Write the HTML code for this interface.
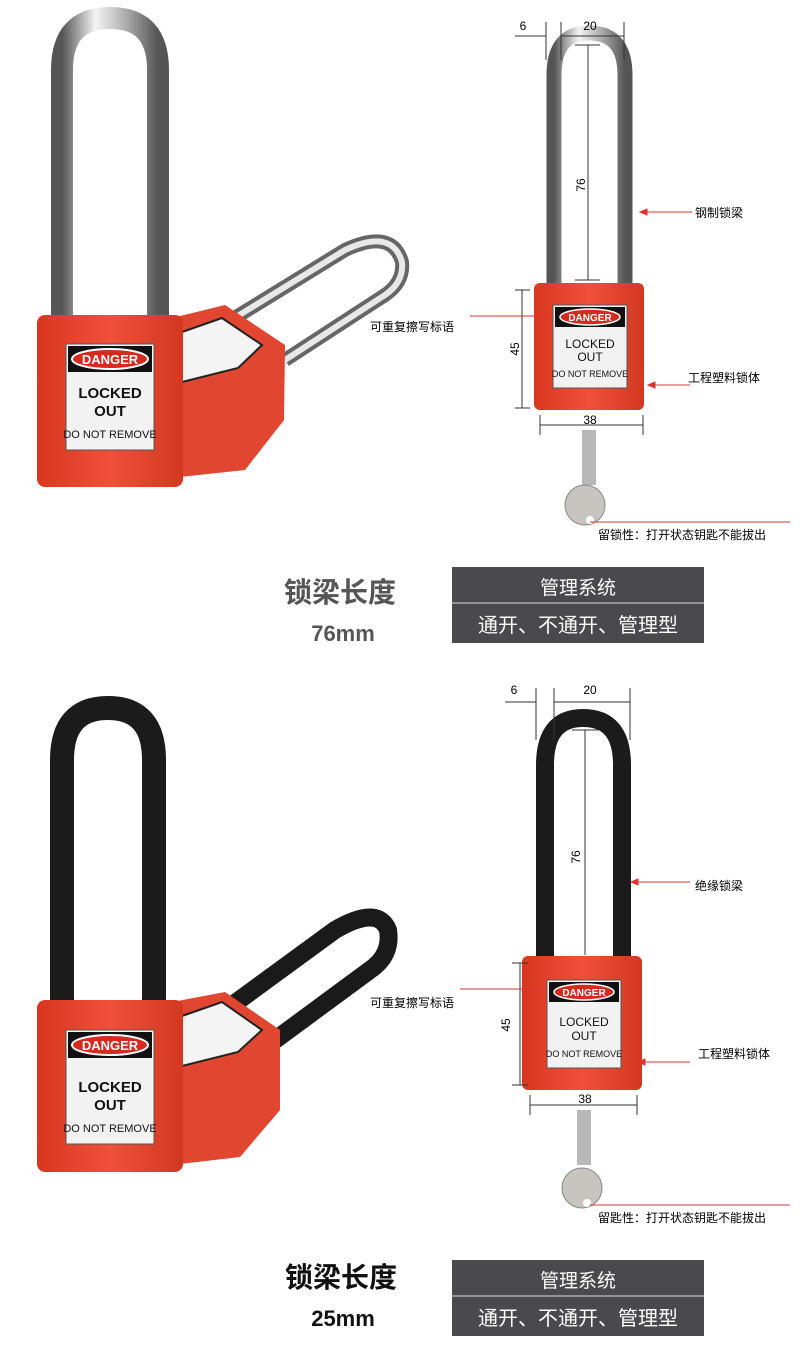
<!DOCTYPE html>
<html><head><meta charset="utf-8"><style>
body{margin:0;background:#fff;}
svg text{font-family:"Liberation Sans","Noto Sans CJK SC",sans-serif;}
</style></head><body>
<svg width="800" height="1357" viewBox="0 0 800 1357" xmlns="http://www.w3.org/2000/svg">
<defs>
<linearGradient id="steel" x1="0" x2="1" y1="0" y2="0">
<stop offset="0" stop-color="#555"/><stop offset="0.35" stop-color="#f4f4f4"/><stop offset="0.65" stop-color="#b0b0b0"/><stop offset="1" stop-color="#555"/>
</linearGradient>
<linearGradient id="red" x1="0" x2="1"><stop offset="0" stop-color="#d8361f"/><stop offset="0.5" stop-color="#f0503a"/><stop offset="1" stop-color="#d23820"/></linearGradient>
</defs>

<!-- ============ TOP SECTION ============ -->
<path d="M215 330 L345 250 Q392 228 402 262 Q404 282 385 295 L285 360" fill="none" stroke="#666" stroke-width="14"/>
<path d="M215 330 L345 250 Q392 228 402 262 Q404 282 385 295 L285 360" fill="none" stroke="#e8e8e8" stroke-width="6"/>
<polygon points="172,318 225,305 285,345 284,420 245,470 180,477" fill="#e04630"/>
<polygon points="182,332 222,318 262,345 238,368 182,382" fill="#f4f4f4" stroke="#222" stroke-width="2"/>
<path d="M62 320 L62 70 Q62 18 110 18 Q158 18 158 70 L158 320" fill="none" stroke="url(#steel)" stroke-width="22"/>
<rect x="37" y="315" width="146" height="172" rx="8" fill="url(#red)"/>
<rect x="66" y="344" width="88" height="106" fill="#f2f2f2" stroke="#555"/>
<rect x="68" y="346" width="84" height="26" fill="#111"/>
<ellipse cx="110" cy="359" rx="38" ry="10" fill="#d62a1f" stroke="#fff" stroke-width="2"/>
<text x="110" y="364" font-size="13" font-weight="bold" fill="#fff" text-anchor="middle">DANGER</text>
<text x="110" y="398" font-size="15" font-weight="bold" fill="#111" text-anchor="middle">LOCKED</text>
<text x="110" y="416" font-size="15" font-weight="bold" fill="#111" text-anchor="middle">OUT</text>
<text x="110" y="438" font-size="11" fill="#111" text-anchor="middle">DO NOT REMOVE</text>

<!-- right diagram top -->
<path d="M554 285 L554 75 Q554 33 589 33 Q625 33 625 75 L625 285" fill="none" stroke="url(#steel)" stroke-width="15"/>
<rect x="534" y="283" width="110" height="127" rx="6" fill="url(#red)"/>
<rect x="553" y="305" width="74" height="83" fill="#f2f2f2" stroke="#555"/>
<rect x="555" y="307" width="70" height="20" fill="#111"/>
<ellipse cx="590" cy="317" rx="30" ry="8" fill="#d62a1f" stroke="#fff" stroke-width="1.5"/>
<text x="590" y="321" font-size="10" font-weight="bold" fill="#fff" text-anchor="middle">DANGER</text>
<text x="590" y="348" font-size="12" fill="#111" text-anchor="middle">LOCKED</text>
<text x="590" y="361" font-size="12" fill="#111" text-anchor="middle">OUT</text>
<text x="590" y="377" font-size="9" fill="#111" text-anchor="middle">DO NOT REMOVE</text>
<rect x="582" y="430" width="14" height="55" fill="#b8b8b8"/>
<circle cx="585" cy="505" r="20" fill="#c8c4c0" stroke="#888"/>
<circle cx="590" cy="520" r="4" fill="#fff"/>
<g stroke="#333" stroke-width="1" fill="#333">
<line x1="546" y1="22" x2="546" y2="60"/><line x1="561" y1="22" x2="561" y2="60"/><line x1="624" y1="22" x2="624" y2="60"/>
<line x1="515" y1="36" x2="546" y2="36"/><line x1="561" y1="36" x2="624" y2="36"/>
<line x1="588" y1="45" x2="588" y2="280"/><line x1="575" y1="45" x2="600" y2="45"/><line x1="575" y1="280" x2="600" y2="280"/>
<line x1="522" y1="290" x2="522" y2="408"/><line x1="515" y1="290" x2="530" y2="290"/><line x1="515" y1="408" x2="530" y2="408"/>
<line x1="540" y1="425" x2="643" y2="425"/><line x1="540" y1="415" x2="540" y2="435"/><line x1="643" y1="415" x2="643" y2="435"/>
</g>
<text x="523" y="30" font-size="12" text-anchor="middle">6</text>
<text x="590" y="30" font-size="12" text-anchor="middle">20</text>
<text x="590" y="424" font-size="12" text-anchor="middle">38</text>
<text transform="translate(585,185) rotate(-90)" font-size="12" text-anchor="middle">76</text>
<text transform="translate(519,349) rotate(-90)" font-size="12" text-anchor="middle">45</text>
<g stroke="#d33" stroke-width="1" fill="#d33">
<line x1="642" y1="212" x2="692" y2="212"/><polygon points="640,212 647,209 647,215"/>
<line x1="470" y1="316" x2="548" y2="316"/>
<line x1="650" y1="385" x2="690" y2="385"/><polygon points="648,385 655,382 655,388"/>
<line x1="590" y1="522" x2="790" y2="522"/>
</g>
<text x="695" y="217" font-size="12">钢制锁梁</text>
<text x="370" y="331" font-size="12">可重复擦写标语</text>
<text x="688" y="382" font-size="12">工程塑料锁体</text>
<text x="598" y="539" font-size="12">留锁性：打开状态钥匙不能拔出</text>

<text x="340" y="602" font-size="28" font-weight="bold" fill="#555" text-anchor="middle">锁梁长度</text>
<text x="343" y="641" font-size="22" font-weight="bold" fill="#555" text-anchor="middle">76mm</text>
<rect x="452" y="567" width="252" height="76" fill="#4a4a4c"/>
<line x1="452" y1="603" x2="704" y2="603" stroke="#ddd"/>
<text x="578" y="594" font-size="19" fill="#fff" text-anchor="middle">管理系统</text>
<text x="578" y="632" font-size="20" fill="#fff" text-anchor="middle">通开、不通开、管理型</text>

<!-- ============ BOTTOM SECTION ============ -->
<path d="M212 1020 L335 930 Q378 905 388 930 Q392 955 370 970 L275 1040" fill="none" stroke="#1a1a1a" stroke-width="18"/>
<polygon points="172,1002 225,992 280,1030 280,1110 240,1157 180,1164" fill="#e04630"/>
<polygon points="182,1016 222,1002 262,1030 238,1052 182,1066" fill="#f4f4f4" stroke="#222" stroke-width="2"/>
<path d="M62 1010 L62 760 Q62 708 108 708 Q154 708 154 760 L154 1010" fill="none" stroke="#1b1b1b" stroke-width="24"/>
<rect x="37" y="1000" width="146" height="172" rx="8" fill="url(#red)"/>
<rect x="66" y="1030" width="88" height="114" fill="#f2f2f2" stroke="#555"/>
<rect x="68" y="1032" width="84" height="26" fill="#111"/>
<ellipse cx="110" cy="1045" rx="38" ry="10" fill="#d62a1f" stroke="#fff" stroke-width="2"/>
<text x="110" y="1050" font-size="13" font-weight="bold" fill="#fff" text-anchor="middle">DANGER</text>
<text x="110" y="1092" font-size="15" font-weight="bold" fill="#111" text-anchor="middle">LOCKED</text>
<text x="110" y="1110" font-size="15" font-weight="bold" fill="#111" text-anchor="middle">OUT</text>
<text x="110" y="1132" font-size="11" fill="#111" text-anchor="middle">DO NOT REMOVE</text>

<path d="M545 960 L545 765 Q545 718 583 718 Q622 718 622 765 L622 960" fill="none" stroke="#1b1b1b" stroke-width="18"/>
<rect x="522" y="956" width="120" height="134" rx="6" fill="url(#red)"/>
<rect x="547" y="980" width="74" height="88" fill="#f2f2f2" stroke="#555"/>
<rect x="549" y="982" width="70" height="20" fill="#111"/>
<ellipse cx="584" cy="992" rx="30" ry="8" fill="#d62a1f" stroke="#fff" stroke-width="1.5"/>
<text x="584" y="996" font-size="10" font-weight="bold" fill="#fff" text-anchor="middle">DANGER</text>
<text x="584" y="1026" font-size="12" fill="#111" text-anchor="middle">LOCKED</text>
<text x="584" y="1040" font-size="12" fill="#111" text-anchor="middle">OUT</text>
<text x="584" y="1057" font-size="9" fill="#111" text-anchor="middle">DO NOT REMOVE</text>
<rect x="577" y="1110" width="14" height="55" fill="#b8b8b8"/>
<circle cx="582" cy="1188" r="20" fill="#c8c4c0" stroke="#888"/>
<circle cx="587" cy="1203" r="4" fill="#fff"/>
<g stroke="#333" stroke-width="1">
<line x1="536" y1="688" x2="536" y2="740"/><line x1="554" y1="688" x2="554" y2="740"/><line x1="630" y1="688" x2="630" y2="740"/>
<line x1="505" y1="702" x2="536" y2="702"/><line x1="554" y1="702" x2="630" y2="702"/>
<line x1="585" y1="730" x2="585" y2="955"/><line x1="572" y1="730" x2="598" y2="730"/>
<line x1="520" y1="963" x2="520" y2="1085"/><line x1="512" y1="963" x2="528" y2="963"/><line x1="512" y1="1085" x2="528" y2="1085"/>
<line x1="530" y1="1105" x2="637" y2="1105"/><line x1="530" y1="1095" x2="530" y2="1115"/><line x1="637" y1="1095" x2="637" y2="1115"/>
</g>
<text x="514" y="694" font-size="12" text-anchor="middle">6</text>
<text x="590" y="694" font-size="12" text-anchor="middle">20</text>
<text x="585" y="1103" font-size="12" text-anchor="middle">38</text>
<text transform="translate(580,857) rotate(-90)" font-size="12" text-anchor="middle">76</text>
<text transform="translate(510,1025) rotate(-90)" font-size="12" text-anchor="middle">45</text>
<g stroke="#d33" stroke-width="1" fill="#d33">
<line x1="633" y1="882" x2="690" y2="882"/><polygon points="631,882 638,879 638,885"/>
<line x1="460" y1="989" x2="540" y2="989"/>
<line x1="640" y1="1062" x2="690" y2="1062"/><polygon points="638,1062 645,1059 645,1065"/>
<line x1="590" y1="1205" x2="790" y2="1205"/>
</g>
<text x="695" y="890" font-size="12">绝缘锁梁</text>
<text x="370" y="1007" font-size="12">可重复擦写标语</text>
<text x="698" y="1058" font-size="12">工程塑料锁体</text>
<text x="598" y="1222" font-size="12">留匙性：打开状态钥匙不能拔出</text>

<text x="341" y="1287" font-size="28" font-weight="bold" fill="#111" text-anchor="middle">锁梁长度</text>
<text x="343" y="1326" font-size="22" font-weight="bold" fill="#111" text-anchor="middle">25mm</text>
<rect x="452" y="1260" width="252" height="76" fill="#4a4a4c"/>
<line x1="452" y1="1296" x2="704" y2="1296" stroke="#ddd"/>
<text x="578" y="1287" font-size="19" fill="#fff" text-anchor="middle">管理系统</text>
<text x="578" y="1325" font-size="20" fill="#fff" text-anchor="middle">通开、不通开、管理型</text>
</svg>
</body></html>
